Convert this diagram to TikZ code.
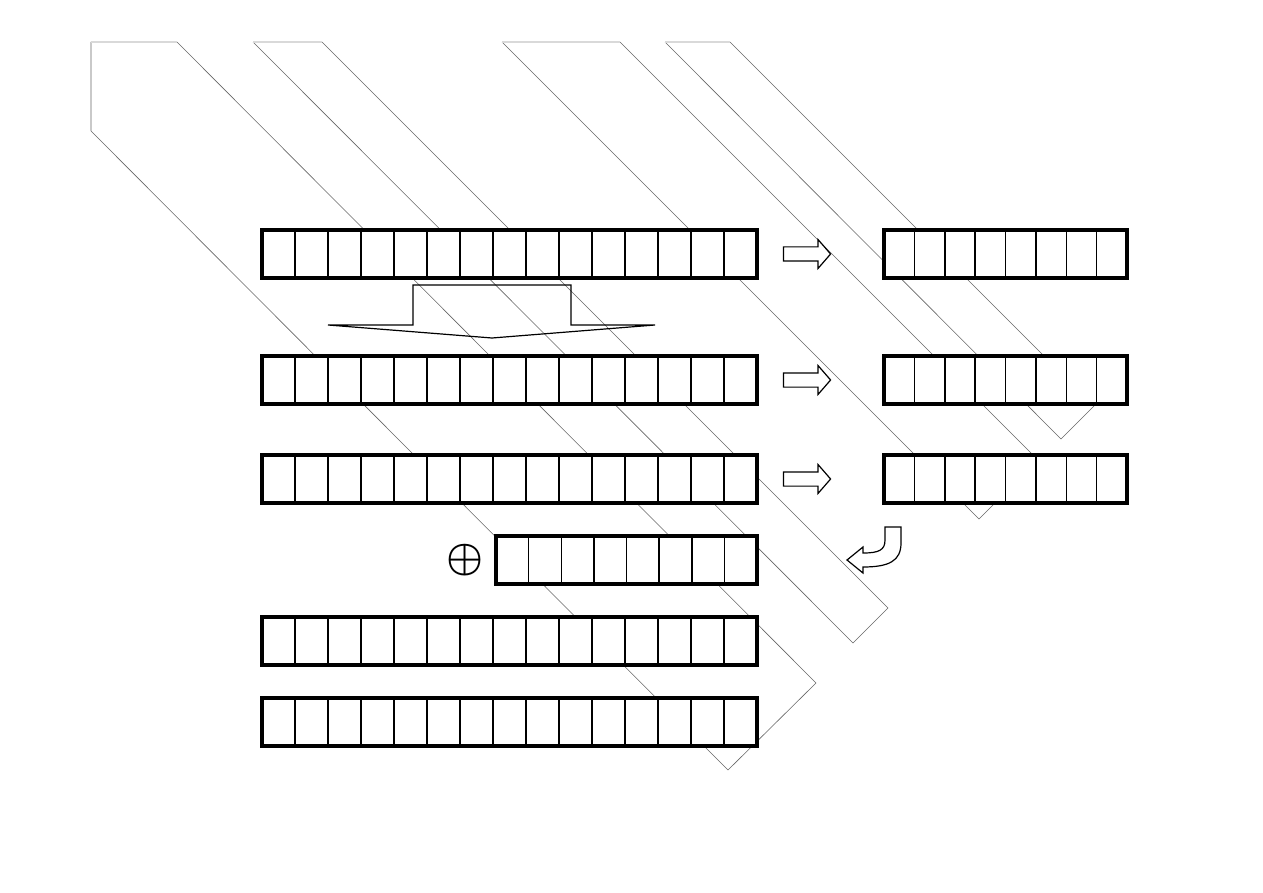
\documentclass[tikz,border=0pt]{standalone}
\usepackage{tikz}
\usetikzlibrary{shapes.arrows}
\tikzset{
  band/.style   ={draw=black!60, line width=0.3pt, line join=miter},
  bandtop/.style={draw=black!15, line width=0.6pt},
  reg/.style    ={rectangle, draw=black, fill=white, line width=1.6pt, inner sep=0pt,
                  outer sep=0pt, minimum height=24pt, anchor=north west},
  wreg/.style   ={reg, minimum width=247.5pt},
  sreg/.style   ={reg, minimum width=130.5pt},
  kreg/.style   ={reg, minimum width=121.5pt},
  sep/.style    ={line width=0.75pt},
  rarr/.style   ={single arrow, draw=black, fill=white, line width=0.6pt, inner sep=3.25pt,
                  minimum height=23.5pt, single arrow head extend=3.75pt,
                  single arrow tip angle=98, outer sep=0pt},
  barr/.style   ={draw=black, line width=0.6pt, line join=miter},
}
\begin{document}
\begin{tikzpicture}[x=0.5pt, y=-0.5pt]
  \useasboundingbox (0,0) rectangle (1263,893);
  % diagonal bands in the background
  \draw[band] (91,131) -- (91,42) (177,42) -- (816,683) -- (728,770) -- (91,131);
  \draw[band] (322,42) -- (888,608) -- (853,643) -- (253,42);
  \draw[band] (620,42) -- (1038,460) -- (979,519) -- (502,42);
  \draw[band] (730,42) -- (1094,406) -- (1061,439) -- (665,42);
  \foreach \a/\b in {91/177, 253/322, 502/620, 665/730}
    \draw[bandtop] (\a,42) -- (\b,42);

  % registers
  \node[wreg] (st1) at (262,230) {};
  \node[wreg] (st2) at (262,356) {};
  \node[wreg] (st3) at (262,455) {};
  \node[sreg] (xr)  at (496,536) {};
  \node[wreg] (st5) at (262,617) {};
  \node[wreg] (st6) at (262,698) {};
  \node[kreg] (k1)  at (884,230) {};
  \node[kreg] (k2)  at (884,356) {};
  \node[kreg] (k3)  at (884,455) {};
  \foreach \r in {st1,st2,st3,st5,st6}
    \foreach \i in {1,...,14}
      \draw[sep] (\r.north west) ++(\i*33,0) -- ++(0,48);
  \foreach \i in {1,...,7}
    \draw[sep] (xr.north west) ++(\i*32.625,0) -- ++(0,48);
  \foreach \r in {k1,k2,k3}
    \foreach \i in {1,...,7}
      \draw[sep] (\r.north west) ++(\i*30.375,0) -- ++(0,48);

  % arrows
  \node[rarr] (a1) at (804,254) {};
  \node[rarr] (a2) at (804,380) {};
  \node[rarr] (a3) at (804,479) {};
  \draw[barr] (413,285) -- (571,285) -- (571,325) -- (655,325) -- (492,338)
    -- (328,325) -- (413,325) -- cycle;
  \draw[barr, fill=white] (885,527) -- (901,527) -- (901,543)
    .. controls (901,561) and (889,567) .. (863,567) -- (863,573) -- (847,560)
    -- (863,547) -- (863,553) .. controls (879,553) and (885,550) .. (885,540) -- cycle;
  \node[inner sep=0pt, font=\fontsize{22}{22}\selectfont\boldmath] (xo) at (465,560) {$\oplus$};
\end{tikzpicture}
\end{document}
